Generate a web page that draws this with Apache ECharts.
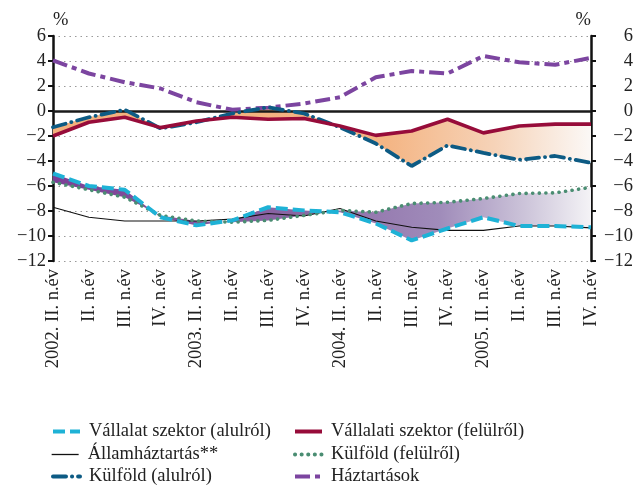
<!DOCTYPE html>
<html>
<head>
<meta charset="utf-8">
<script src="https://cdn.jsdelivr.net/npm/echarts@6/dist/echarts.min.js"></script>
<style>
  html, body { margin: 0; padding: 0; background: #fff; }
  #chart { width: 636px; height: 487px; }
</style>
</head>
<body>
<div id="chart"></div>
<script>
// Quarterly categories
const categories = [
  '2002. II. n.év', 'II. n.év', 'III. n.év', 'IV. n.év',
  '2003. II. n.év', 'II. n.év', 'III. n.év', 'IV. n.év',
  '2004. II. n.év', 'II. n.év', 'III. n.év', 'IV. n.év',
  '2005. II. n.év', 'II. n.év', 'III. n.év', 'IV. n.év'
];

// Series values, % of GDP
const vallalatAlulrol  = [-5.0, -6.0, -6.3, -8.5, -9.15, -8.75, -7.7, -7.95, -8.1, -9.0, -10.35, -9.4, -8.5, -9.2, -9.2, -9.3];
const vallalatiFelulrol = [-2.0, -0.9, -0.5, -1.33, -0.8, -0.5, -0.66, -0.6, -1.2, -1.95, -1.6, -0.66, -1.75, -1.2, -1.05, -1.05];
const allamhaztartas   = [-7.7, -8.5, -8.8, -8.8, -8.8, -8.65, -8.2, -8.4, -7.8, -8.8, -9.3, -9.55, -9.55, -9.2, -9.2, -9.35];
const kulfoldFelulrol  = [-5.7, -6.3, -6.9, -8.35, -8.8, -8.9, -8.75, -8.35, -7.95, -8.1, -7.4, -7.3, -7.0, -6.6, -6.55, -6.1];
const kulfoldAlulrol   = [-1.3, -0.5, 0.1, -1.4, -0.9, -0.2, 0.3, -0.2, -1.3, -2.6, -4.4, -2.75, -3.35, -3.9, -3.6, -4.15];
const haztartasok      = [4.05, 3.0, 2.3, 1.8, 0.7, 0.1, 0.27, 0.6, 1.1, 2.7, 3.2, 3.0, 4.4, 3.9, 3.7, 4.25];

// Axis ticks
const yMin = -12, yMax = 6, yStep = 2;

// Legend layout: two columns, three rows
const legendColumns = [
  ['Vállalat szektor (alulról)', 'Államháztartás**', 'Külföld (alulról)'],
  ['Vállalati szektor (felülről)', 'Külföld (felülről)', 'Háztartások']
];

const FONT = 'Liberation Serif';
const FS = 18.5;
const diff = (top, bottom) => top.map((v, i) => +(v - bottom[i]).toFixed(3));

// Line styles per series
const styles = {
  'Vállalat szektor (alulról)':   { color: '#1eb2d6', width: 4,   type: [12, 5] },
  'Vállalati szektor (felülről)': { color: '#970c3a', width: 3.6, type: 'solid' },
  'Államháztartás**':             { color: '#111111', width: 1.1, type: 'solid' },
  'Külföld (felülről)':           { color: '#4a8d72', width: 3.6, type: [0.1, 6.5], cap: 'round' },
  'Külföld (alulról)':            { color: '#0d5b84', width: 3.8, type: [13, 6, 0.1, 6], cap: 'round' },
  'Háztartások':                  { color: '#7c45a0', width: 4,   type: [15, 5, 5, 5] }
};

const chart = echarts.init(document.getElementById('chart'), null, { renderer: 'canvas' });

function yAxisDef(pos) {
  const right = pos === 'right';
  return {
    type: 'value',
    position: pos,
    min: yMin, max: yMax, interval: yStep,
    name: '%',
    nameLocation: 'end',
    nameGap: 6,
    nameTextStyle: { fontFamily: FONT, fontSize: FS, color: '#222', align: right ? 'right' : 'left' },
    axisLine: { show: true, lineStyle: { color: '#111', width: 2.5 } },
    axisTick: { show: true, inside: false, length: 5, lineStyle: { color: '#111', width: 2 } },
    axisLabel: {
      fontFamily: FONT, fontSize: FS, color: '#222',
      align: 'right',
      margin: right ? 42 : 7,
      formatter: v => String(v).replace('-', '\u2212')
    },
    splitLine: right ? { show: false } : { show: true, lineStyle: { color: '#9a9a9a', width: 1.2, type: [1.5, 4] } }
  };
}

const hidden = { symbol: 'none', silent: true, lineStyle: { opacity: 0, width: 0 }, stackStrategy: 'all', z: 1 };

const legendLeft = [51, 293];
const legendTop = [422, 445, 467];
const legends = [];
legendColumns.forEach((col, c) => {
  col.forEach((name, r) => {
    const s = styles[name];
    legends.push({
      left: legendLeft[c], top: legendTop[r], orient: 'horizontal', padding: 0,
      itemWidth: 27, itemHeight: 14,
      itemStyle: { opacity: 0 },
      lineStyle: { width: s.width === 1.1 ? 1.3 : 4, cap: s.cap || 'butt' },
      textStyle: { fontFamily: FONT, fontSize: FS, color: '#222', padding: [0, 0, 0, 4] },
      data: [name]
    });
  });
});

function lineSeries(name, data, z) {
  const s = styles[name];
  return {
    name, type: 'line', data, symbol: 'none', z,
    lineStyle: { color: s.color, width: s.width, type: s.type, cap: s.cap || 'butt' },
    itemStyle: { color: s.color }
  };
}

const option = {
  animation: false,
  backgroundColor: '#fff',
  grid: { left: 53, right: 45, top: 36, bottom: 226, containLabel: false },
  xAxis: {
    type: 'category',
    data: categories,
    boundaryGap: false,
    axisLine: { show: false },
    axisTick: { show: false },
    splitLine: { show: false },
    axisLabel: { rotate: 90, interval: 0, margin: 8, fontFamily: FONT, fontSize: FS, color: '#222' }
  },
  yAxis: [yAxisDef('left'), yAxisDef('right')],
  legend: legends,
  series: [
    // Orange band between the two external-financing lines (base + difference)
    Object.assign({ name: 'sav1', type: 'line', stack: 'felso', data: kulfoldAlulrol,
      markLine: {
        silent: true, symbol: 'none', label: { show: false },
        lineStyle: { color: '#1a1a1a', width: 2.5, type: 'solid' },
        data: [{ yAxis: 0 }]
      } }, hidden),
    Object.assign({}, hidden, { name: 'sav1d', type: 'line', stack: 'felso', data: diff(vallalatiFelulrol, kulfoldAlulrol),
      areaStyle: { opacity: 1, color: new echarts.graphic.LinearGradient(0, 0, 1, 0, [
        { offset: 0, color: '#f3b07c' },
        { offset: 0.62, color: '#f4b584' },
        { offset: 0.82, color: '#f6d3b8' },
        { offset: 1, color: '#fbf8f6' }
      ]) } }),
    // Purple band between the lower pair of lines
    Object.assign({ name: 'sav2', type: 'line', stack: 'also', data: vallalatAlulrol }, hidden),
    Object.assign({}, hidden, { name: 'sav2d', type: 'line', stack: 'also', data: diff(kulfoldFelulrol, vallalatAlulrol),
      areaStyle: { opacity: 1, color: new echarts.graphic.LinearGradient(0, 0, 1, 0, [
        { offset: 0, color: '#7b3f96' },
        { offset: 0.45, color: '#8a66a4' },
        { offset: 0.72, color: '#a08cba' },
        { offset: 0.88, color: '#cdc5da' },
        { offset: 1, color: '#f4f3f6' }
      ]) } }),

    lineSeries('Államháztartás**', allamhaztartas, 3),
    lineSeries('Külföld (felülről)', kulfoldFelulrol, 4),
    lineSeries('Vállalat szektor (alulról)', vallalatAlulrol, 5),
    lineSeries('Háztartások', haztartasok, 5),
    lineSeries('Külföld (alulról)', kulfoldAlulrol, 6),
    lineSeries('Vállalati szektor (felülről)', vallalatiFelulrol, 7)
  ]
};

chart.setOption(option);
</script>
</body>
</html>
